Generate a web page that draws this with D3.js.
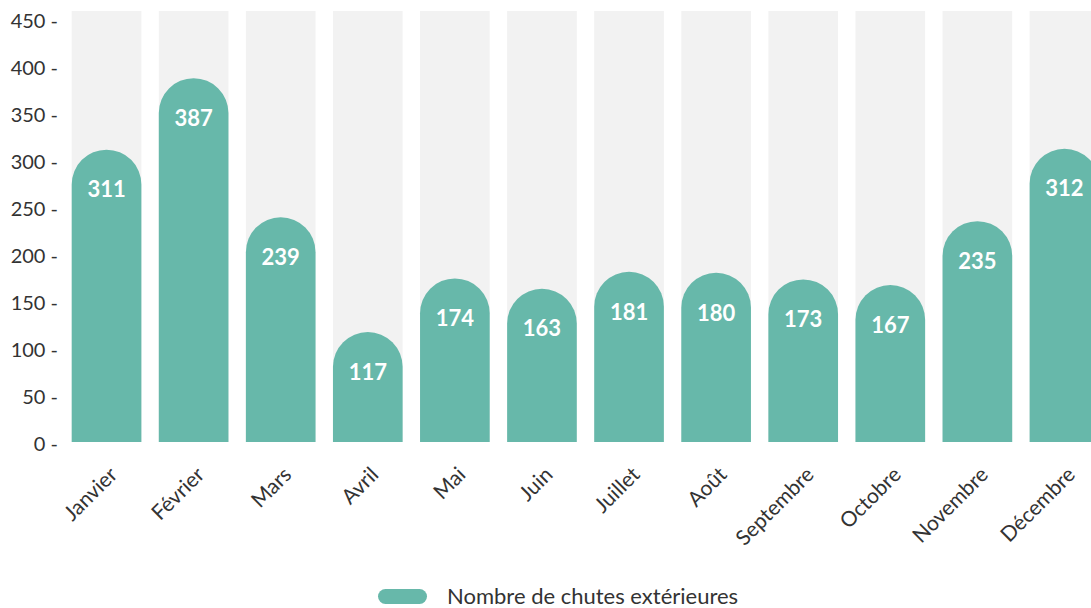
<!DOCTYPE html>
<html>
<head>
<meta charset="utf-8">
<script src="https://cdn.jsdelivr.net/npm/d3@7"></script>
<style>
    body { margin: 0; background: #fff; }
    svg { display: block; font-family: Lato, 'Open Sans', sans-serif; }
    .axis text { fill: #333; font-size: 21px; font-family: Lato, sans-serif; }
    .axis path, .axis line { display: none; }
</style>
</head>
<body>
<svg id="chart" width="1091" height="608"></svg>
<script>
const months = ['Janvier', 'Février', 'Mars', 'Avril', 'Mai', 'Juin', 'Juillet', 'Août',
    'Septembre', 'Octobre', 'Novembre', 'Décembre'];
const falls = [311, 387, 239, 117, 174, 163, 181, 180, 173, 167, 235, 312];
const yTicks = [0, 50, 100, 150, 200, 250, 300, 350, 400, 450];
const seriesName = 'Nombre de chutes extérieures';

const TEAL = '#67b8aa';
const TRACK = '#f2f2f2';

const baseY = 442;
const topY = 19;
const trackTop = 11;

const chart = d3.select('#chart');

const xCoord = d3.scaleBand()
    .domain(months)
    .range([63, 1108])
    .paddingInner(0.2)
    .paddingOuter(0.1);

const yCoord = d3.scaleLinear()
    .domain([0, 450])
    .range([baseY, topY]);

const bw = xCoord.bandwidth();
const r = bw / 2;

// grey tracks behind each bar
chart.append('g')
    .selectAll('rect')
    .data(months)
    .join('rect')
    .attr('x', d => xCoord(d))
    .attr('y', trackTop)
    .attr('width', bw)
    .attr('height', baseY - trackTop)
    .attr('fill', TRACK);

// bars with round tops
const barPath = (m, v) => {
    const x = xCoord(m);
    const top = yCoord(v);
    return `M${x},${baseY}L${x},${top + r}A${r},${r} 0 0 1 ${x + bw},${top + r}L${x + bw},${baseY}Z`;
};

chart.append('g')
    .selectAll('path')
    .data(months)
    .join('path')
    .attr('d', (m, i) => barPath(m, falls[i]))
    .attr('fill', TEAL);

chart.append('g')
    .selectAll('text')
    .data(months)
    .join('text')
    .attr('x', d => xCoord(d) + bw / 2)
    .attr('y', (d, i) => yCoord(falls[i]) + 40)
    .attr('dy', '0.35em')
    .attr('text-anchor', 'middle')
    .attr('fill', '#fff')
    .attr('font-weight', 700)
    .attr('font-size', 22)
    .text((d, i) => falls[i]);

// y axis
chart.append('g')
    .attr('class', 'axis axis--y')
    .attr('transform', 'translate(62, 2)')
    .call(d3.axisLeft(yCoord).tickValues(yTicks).tickSize(0).tickPadding(4).tickFormat(d => `${d} -`))
    .selectAll('text')
    .style('font-size', '20px');

// x axis labels, rotated
chart.append('g')
    .attr('class', 'axis axis--x')
    .selectAll('text')
    .data(months)
    .join('text')
    .attr('transform', d => `translate(${xCoord(d) + bw / 2 + 12}, 476) rotate(-45)`)
    .attr('text-anchor', 'end')
    .text(d => d);

// legend
const legend = chart.append('g').attr('transform', 'translate(378, 589)');
legend.append('rect')
    .attr('width', 49)
    .attr('height', 15)
    .attr('rx', 7.5)
    .attr('fill', TEAL);
legend.append('text')
    .attr('x', 69)
    .attr('y', 7.5)
    .attr('dy', '0.35em')
    .attr('fill', '#333')
    .attr('font-size', 22)
    .text(seriesName);
</script>
</body>
</html>
